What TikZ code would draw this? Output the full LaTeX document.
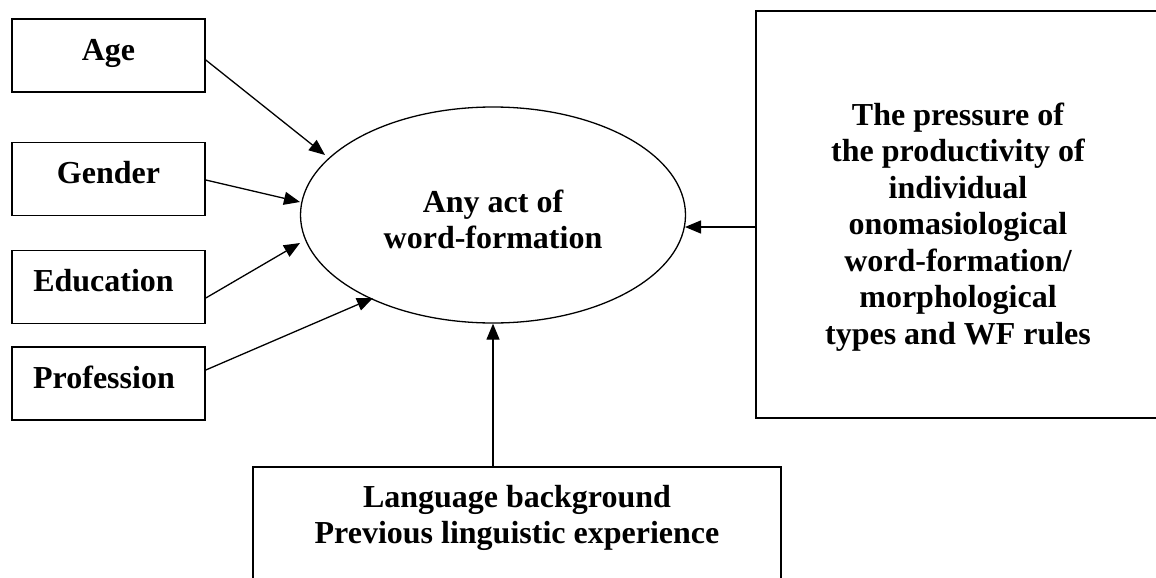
\documentclass[tikz,border=0pt]{standalone}
\usepackage{fontspec}
\setmainfont{Liberation Serif}
\usetikzlibrary{arrows.meta,shapes.geometric,calc}
\newcommand{\mylines}[1]{\begin{tabular}[t]{@{}c@{}}#1\end{tabular}}
\begin{document}
\begin{tikzpicture}[x=1pt,y=-1pt,
  every node/.style={font=\bfseries\fontsize{32}{36.5}\selectfont},
  factor/.style={draw,line width=1.6pt,rectangle,inner sep=0pt,
    minimum width=193pt,minimum height=73pt,text height=22pt,text depth=13pt},
  bigbox/.style={draw,line width=1.6pt,rectangle,inner sep=0pt},
  arr/.style={line width=1.3pt,-{Triangle[length=16pt,width=13pt]}}]
\useasboundingbox (0,0) rectangle (1156,578);
% left factor boxes
\node[factor] (age)  at (108.5,55.5)  {Age};
\node[factor] (gen)  at (108.5,179)   {Gender};
\node[factor] (edu)  at (108.5,287)   {\hspace*{-10pt}Education};
\node[factor] (prof) at (108.5,383.5) {\hspace*{-9pt}Profession};
% central ellipse
\node[draw,ellipse,line width=1.3pt,inner sep=0pt,minimum width=385pt,minimum height=216pt,
      text height=20pt,text depth=26pt] (ell) at (493,215)
      {\mylines{Any act of\\word-formation}};
% right box (runs past the right edge)
\node[bigbox,minimum width=404pt,minimum height=407pt,text height=0pt,text depth=179pt]
      (rbox) at (958,214.5)
      {\mylines{The pressure of\\the productivity of\\individual\\onomasiological\\word-formation/\\morphological\\types and WF rules}};
% bottom box (runs past the bottom edge)
\node[bigbox,minimum width=528pt,minimum height=153pt,text height=0pt,text depth=73pt]
      (bbox) at (517,543.5)
      {\mylines{Language background\\Previous linguistic experience}};
% arrow tips on the ellipse
\coordinate (t1) at (325,155);
\coordinate (t2) at (300,202);
\coordinate (t3) at (300,243);
\coordinate (t4) at (373,298);
\coordinate (t5) at (685,227);
% connectors
\draw[arr] ([yshift=-4.5pt]age.east) -- (t1);
\draw[arr] ([yshift=-1pt]gen.east) -- (t2);
\draw[arr] ([yshift=-11pt]edu.east) -- (t3);
\draw[arr] ([yshift=13.5pt]prof.east) -- (t4);
\draw[arr] ([yshift=-12.5pt]rbox.west) -- (t5);
\draw[arr] ([xshift=-24pt]bbox.north) -- (ell.south);
\end{tikzpicture}
\end{document}
